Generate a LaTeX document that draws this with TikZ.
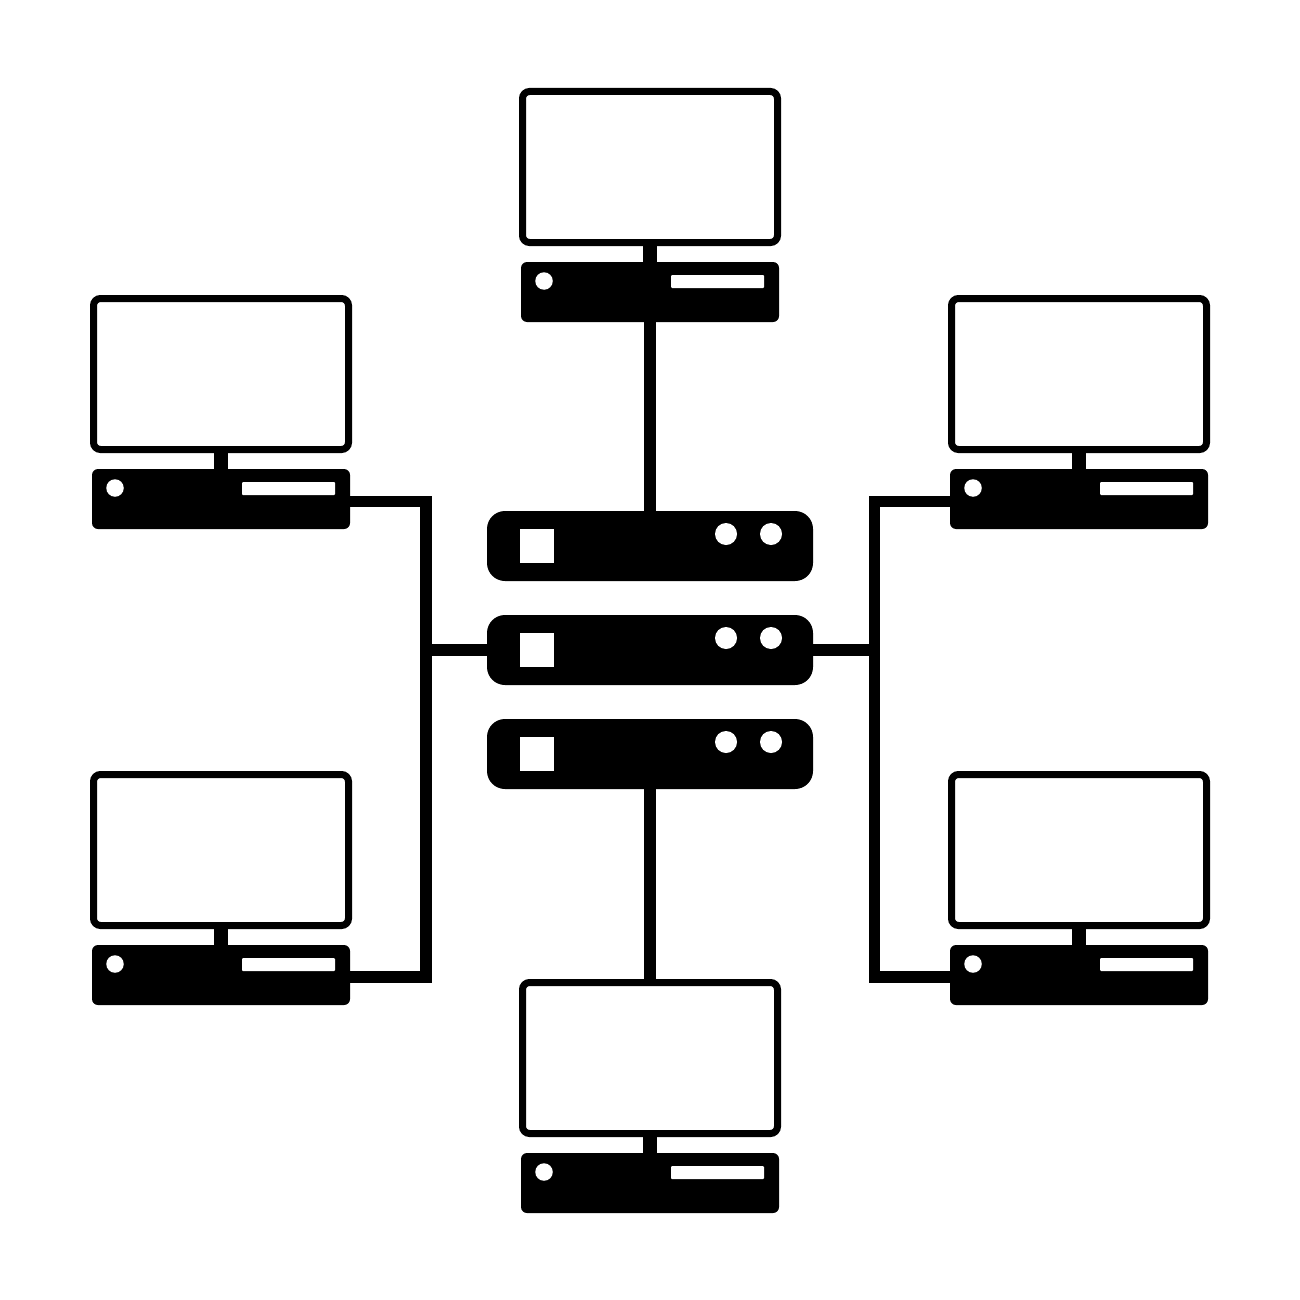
\documentclass[tikz,border=0pt]{standalone}
\tikzset{
  wire/.style={line width=11.6pt,black,line join=miter,line cap=butt},
  screen/.style={draw=black,fill=white,line width=7pt,rounded corners=7pt,minimum width=255pt,minimum height=151pt,inner sep=0pt,outer sep=0pt},
  stand/.style={fill=black,minimum width=14pt,minimum height=18pt,inner sep=0pt,outer sep=0pt},
  tower/.style={fill=black,rounded corners=6pt,minimum width=258pt,minimum height=60pt,inner sep=0pt,outer sep=0pt},
  slot/.style={fill=white,rounded corners=1pt,minimum width=93pt,minimum height=13pt,inner sep=0pt,outer sep=0pt},
  led/.style={circle,fill=white,minimum size=17.5pt,inner sep=0pt,outer sep=0pt},
  rack/.style={fill=black,rounded corners=18pt,minimum width=326pt,minimum height=70pt,inner sep=0pt,outer sep=0pt},
  bay/.style={fill=white,minimum width=34.5pt,minimum height=34pt,inner sep=0pt,outer sep=0pt},
  lamp/.style={circle,fill=white,minimum size=22pt,inner sep=0pt,outer sep=0pt}
}
% #1 name, #2 centre x, #3 top y of the screen's outer edge
\newcommand{\computer}[3]{%
  \node[stand] (#1stand) at (#2,#3+166) {};
  \node[screen] (#1screen) at (#2,#3+79) {};
  \node[tower] (#1base) at (#2,#3+204) {};
  \node[led] (#1led) at (#2-106,#3+193) {};
  \node[slot] (#1slot) at (#2+67.5,#3+193.5) {};
}
% #1 name, #2 top y
\newcommand{\server}[2]{%
  \node[rack] (#1) at (650,#2+35) {};
  \node[bay] (#1bay) at (537.2,#2+35) {};
  \node[lamp] (#1a) at (726,#2+23) {};
  \node[lamp] (#1b) at (771,#2+23) {};
}
\begin{document}
\begin{tikzpicture}[x=1pt,y=-1pt]
\useasboundingbox (0,0) rectangle (1300,1300);
\fill[white] (0,0) rectangle (1300,1300);
\coordinate (busTL) at (425.7,501.5);
\coordinate (busBL) at (425.7,977);
\coordinate (busTR) at (874.5,501.5);
\coordinate (busBR) at (874.5,977);
\coordinate (busML) at (425.7,650);
\coordinate (busMR) at (874.5,650);
\computer{top}{650}{88}
\computer{bottom}{650}{979}
\computer{ul}{221}{295}
\computer{ll}{221}{771}
\computer{ur}{1079}{295}
\computer{lr}{1079}{771}
\server{srvA}{511}
\server{srvB}{615}
\server{srvC}{719}
\draw[wire] (topbase.south) -- (srvA.north);
\draw[wire] (srvC.south) -- (bottomscreen.north);
\draw[wire] (ulbase.east |- busTL) -- (busTL) -- (busBL) -- (llbase.east |- busBL);
\draw[wire] (urbase.west |- busTR) -- (busTR) -- (busBR) -- (lrbase.west |- busBR);
\draw[wire] (busML) -- (srvB.west);
\draw[wire] (srvB.east) -- (busMR);
\end{tikzpicture}
\end{document}
